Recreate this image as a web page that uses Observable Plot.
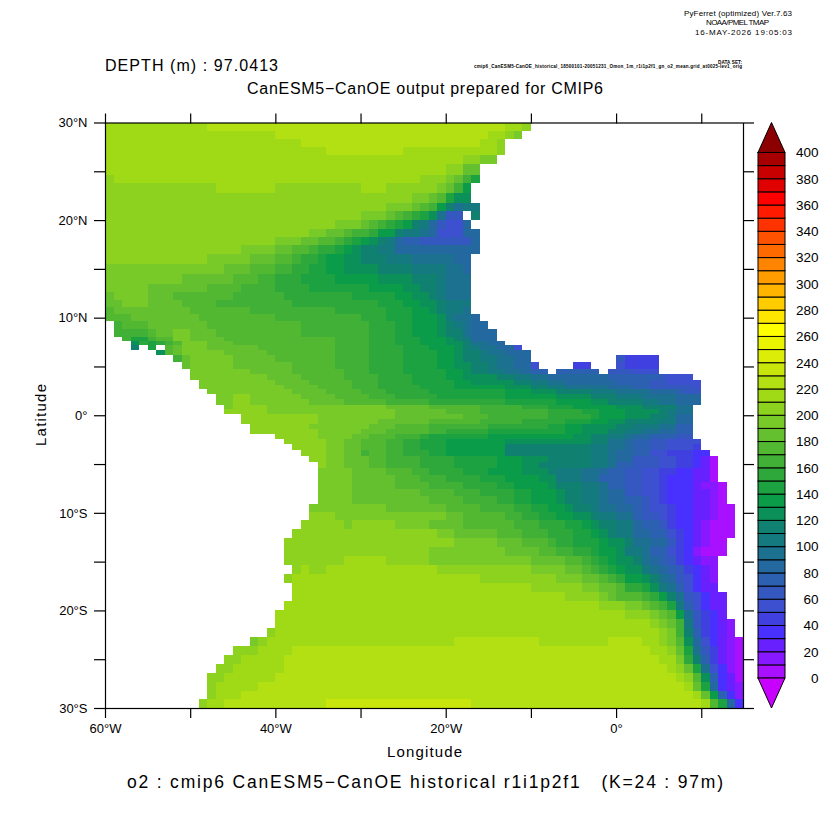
<!DOCTYPE html>
<html><head><meta charset="utf-8">
<script src="https://cdn.jsdelivr.net/npm/d3@7"></script>
<script src="https://cdn.jsdelivr.net/npm/@observablehq/plot@0.6"></script>
<style>
html,body{margin:0;padding:0;background:#fff}
#wrap{position:relative;width:832px;height:832px;overflow:hidden}
#wrap svg{position:absolute;left:0;top:0;background:transparent}
</style></head><body><div id="wrap"></div>
<script>
// Latitude edges of the model rows (deg N), north to south
const latEdges = [30,29.08,28.36,27.54,26.62,25.7,24.67,23.75,22.73,21.8,20.88,19.96,19.04,18.22,17.4,16.48,15.45,14.43,13.5,12.68,11.86,11.05,10.33,9.61,8.79,8.07,7.56,7.15,6.64,6.13,5.41,4.69,4.18,3.66,3.15,2.64,2.13,1.62,1.1,.59,.08,-.43,-.94,-1.45,-1.97,-2.48,-2.99,-3.61,-4.22,-4.84,-5.45,-6.17,-6.89,-7.6,-8.32,-9.14,-9.96,-10.78,-11.7,-12.62,-13.55,-14.47,-15.39,-16.31,-17.23,-18.16,-19.08,-20,-20.92,-21.84,-22.77,-23.69,-24.61,-25.53,-26.45,-27.38,-28.3,-29.12,-30];
// Per row: "degrees east of 60W : o2 in tens of umol/kg" ; x = land
const o2Rows = [
"0:21 12:22 47:21 49:20 50:x",
"0:21 20:22 45:21 47:20 48:19 49:x",
"0:21 23:22 44:21 46:20 47:x",
"0:21 26:22 35:21 46:20 47:x",
"0:21 42:20 44:19 46:x",
"0:21 40:20 42:18 44:x",
"0:20 1:21 37:20 40:19 41:18 42:16 43:14 44:x",
"0:20 13:21 20:20 30:21 33:20 39:19 40:18 41:16 42:13 43:x",
"0:20 36:19 38:18 39:17 40:14 41:12 43:x",
"0:20 33:19 36:18 37:17 38:16 39:13 40:11 41:9 42:10 44:x",
"0:20 30:19 33:18 34:17 35:16 36:15 37:14 38:12 39:9 40:6 42:x 43:11 44:x",
"0:20 27:19 30:18 31:17 32:16 33:15 34:14 35:13 36:11 37:10 38:8 39:6 40:5 42:8 43:x",
"0:20 24:19 26:18 28:17 29:16 31:15 32:13 34:11 35:10 37:9 38:8 39:5 42:8 44:x",
"0:20 20:19 23:18 25:17 27:16 28:15 29:14 30:13 31:12 32:11 33:10 34:8 35:7 37:6 43:8 44:x",
"0:20 16:19 20:18 22:17 24:16 25:15 27:14 28:13 29:12 30:11 32:10 34:8 44:x",
"0:20 12:19 17:18 20:17 22:16 23:15 25:14 26:13 28:12 30:11 33:10 36:9 41:8 43:x",
"0:19 14:18 17:17 20:16 22:15 24:14 26:13 28:12 32:11 36:10 40:9 42:8 43:x",
"0:19 9:18 15:17 18:16 20:15 23:14 27:13 32:12 36:11 39:10 40:9 43:x",
"0:19 5:18 12:17 16:16 20:15 24:14 31:13 35:12 37:11 39:10 40:9 43:x",
"0:18 1:19 5:18 8:17 15:16 21:15 29:14 34:13 36:12 38:11 39:10 40:9 43:x",
"0:18 2:19 5:18 9:17 13:16 22:15 32:14 35:13 37:12 39:11 40:10 43:x",
"0:17 1:18 10:17 17:16 27:15 33:14 36:13 38:12 39:11 40:10 42:9 43:x",
"0:17 3:18 11:17 20:16 30:15 33:14 36:13 39:12 40:10 41:9 43:8 44:x",
"0:x 1:16 2:17 5:18 12:17 23:16 31:15 34:14 36:13 39:12 40:11 41:10 42:9 43:8 45:x",
"0:x 1:16 5:17 6:18 8:19 10:18 13:17 23:16 31:15 34:14 36:13 39:12 40:11 42:9 43:8 46:x",
"0:x 2:16 3:14 5:16 6:17 8:19 10:18 14:17 27:16 31:15 34:14 37:13 40:12 41:11 42:10 43:8 46:x",
"0:x 3:12 4:15 5:14 6:15 7:16 8:17 9:19 12:18 15:17 27:16 31:15 34:14 37:13 40:12 42:11 43:9 45:8 47:x",
"0:x 3:11 4:x 5:14 6:x 7:17 8:18 9:19 12:18 18:17 27:16 31:15 35:14 38:13 41:12 42:11 43:10 44:9 46:8 48:5 49:x",
"0:x 6:12 7:17 8:18 9:19 14:18 19:17 27:16 31:15 35:14 39:13 41:12 42:11 44:10 45:9 47:8 50:x",
"0:x 8:16 9:18 10:19 15:18 20:17 27:16 31:15 35:14 39:13 41:12 42:11 44:10 46:9 48:8 50:x 60:6 61:4 65:x",
"0:x 9:18 10:19 15:18 22:17 27:16 31:15 35:14 39:13 41:12 43:11 45:10 46:9 48:8 50:5 51:x 55:4 57:x 60:5 61:4 65:x",
"0:x 10:19 17:18 22:17 28:16 31:15 35:14 40:13 42:12 43:11 45:10 47:9 49:8 50:7 52:x 53:7 58:x 59:6 62:5 65:x",
"0:x 10:19 19:18 23:17 28:16 32:15 36:14 40:13 42:12 46:11 48:10 50:9 52:8 59:7 65:6 66:5 69:x",
"0:x 11:19 20:18 24:17 29:16 32:15 36:14 41:13 43:12 48:11 50:10 52:9 54:8 60:7 64:6 66:5 70:x",
"0:x 11:19 21:18 25:17 29:16 32:15 37:14 41:13 47:12 50:11 52:10 54:9 59:8 62:7 64:6 69:5 70:x",
"0:x 12:19 22:18 26:17 30:16 33:15 38:14 47:13 50:12 53:11 57:10 60:9 64:8 67:7 68:6 70:x",
"0:x 13:19 15:20 17:19 23:18 27:17 31:16 34:15 39:14 47:13 53:12 57:11 60:10 63:9 67:8 70:x",
"0:x 13:19 15:20 17:19 24:18 28:17 33:16 38:15 47:14 53:13 57:12 59:11 63:10 65:9 67:8 70:x",
"0:x 14:19 15:20 19:19 33:18 38:17 44:16 49:15 52:14 55:13 60:12 63:11 67:9 69:x",
"0:x 14:20 19:19 34:18 40:17 44:16 52:15 56:14 58:13 61:12 65:11 66:10 67:9 69:x",
"0:x 16:20 25:19 34:18 42:17 45:16 52:15 57:14 58:13 61:12 64:11 66:10 67:8 69:x",
"0:x 16:20 25:19 32:18 38:17 44:16 49:15 54:14 57:13 59:12 61:11 65:10 67:8 69:x",
"0:x 17:20 24:19 31:18 34:17 38:16 45:15 52:14 54:13 56:12 60:11 62:10 65:9 67:7 69:x",
"0:x 17:20 25:19 30:18 33:17 38:16 40:15 45:14 54:13 56:12 59:11 61:10 63:9 65:8 67:7 69:x",
"0:x 20:20 25:19 29:18 31:17 34:16 37:15 38:14 45:13 55:12 57:11 59:10 61:9 62:8 64:7 67:6 69:x",
"0:x 21:20 26:19 28:18 30:17 33:16 35:15 37:14 40:13 47:12 57:11 59:9 61:8 62:7 64:6 66:5 70:x",
"0:x 22:20 26:19 28:18 30:17 33:16 35:15 37:14 40:13 47:11 57:10 59:9 61:8 62:7 64:6 66:5 69:4 70:x",
"0:x 23:20 26:19 28:18 30:16 31:17 33:16 35:15 38:14 40:13 47:11 57:10 59:9 60:8 62:7 64:5 66:4 69:3 71:x",
"0:x 24:20 26:19 28:18 31:17 33:16 37:15 41:14 46:13 49:12 52:11 57:10 59:9 60:8 62:6 65:5 67:4 69:3 70:2 71:0 72:x",
"0:x 25:20 26:19 28:18 31:17 33:16 37:15 41:14 46:13 49:12 51:11 57:10 59:9 60:7 62:6 65:5 67:4 69:3 70:2 71:0 72:x",
"0:x 25:19 29:18 33:17 36:16 38:15 42:14 45:13 49:12 52:11 53:10 56:9 58:8 59:7 61:6 63:5 65:4 67:3 69:2 71:0 72:x",
"0:x 25:19 29:18 34:17 37:16 40:15 44:14 47:13 51:12 53:10 56:9 58:7 61:6 63:5 65:4 66:3 69:2 71:0 72:x",
"0:x 25:19 29:18 34:17 38:16 42:15 46:14 48:13 52:12 53:11 56:10 58:9 59:7 61:6 63:5 65:4 66:3 69:2 70:1 72:0 73:x",
"0:x 25:19 29:18 37:17 41:16 44:15 48:14 50:13 53:12 54:11 56:10 58:9 59:8 61:6 63:5 65:4 66:3 69:2 71:1 72:0 73:x",
"0:x 25:19 29:18 38:17 42:16 46:15 48:14 50:13 53:12 54:11 56:10 58:9 59:8 61:7 63:6 64:5 65:4 66:3 69:2 71:1 72:0 73:x",
"0:x 24:19 33:18 40:17 44:16 48:15 50:14 52:13 54:12 55:11 57:10 58:9 60:8 62:7 63:6 64:5 66:4 67:3 69:2 71:1 72:0 74:x",
"0:x 24:20 27:19 40:18 42:17 47:16 49:15 51:14 53:13 55:12 57:11 58:10 60:9 62:7 63:6 65:5 66:4 67:3 69:2 71:1 72:0 74:x",
"0:x 23:20 28:19 29:20 34:19 38:18 42:17 48:16 51:15 54:14 56:13 57:12 58:11 60:10 62:8 63:7 65:6 66:4 67:3 69:2 70:1 71:0 74:x",
"0:x 22:20 39:19 41:18 46:17 49:16 52:15 55:14 57:13 58:12 59:11 60:10 62:8 64:7 66:5 67:4 68:3 69:2 70:1 71:0 74:x",
"0:x 21:20 41:19 46:18 49:17 52:16 53:15 55:14 58:13 59:12 61:11 62:9 64:8 66:6 67:4 68:3 69:2 70:1 71:0 73:x",
"0:x 21:20 38:19 47:18 51:17 53:16 55:15 57:14 58:13 60:12 61:10 63:9 64:7 66:5 67:4 68:3 69:1 70:0 73:x",
"0:x 21:20 28:21 33:20 38:19 50:18 54:17 56:16 57:15 58:14 59:13 60:12 62:11 63:9 64:8 65:7 66:6 67:4 68:3 69:2 70:1 72:x",
"0:x 22:20 23:21 24:20 26:21 39:20 50:19 54:18 56:17 57:16 58:15 59:14 60:13 61:12 63:10 64:9 65:8 66:7 67:6 68:4 69:3 70:2 71:1 72:x",
"0:x 21:20 22:21 44:20 53:19 56:18 58:17 59:16 60:15 61:13 63:12 64:11 65:9 66:8 67:6 68:5 69:3 70:2 71:1 72:x",
"0:x 22:21 50:20 56:19 58:18 60:17 61:15 63:14 64:12 65:10 66:9 67:7 68:5 69:3 70:2 72:x",
"0:x 22:21 54:20 58:19 59:18 60:17 63:16 64:15 65:13 66:11 67:9 68:6 69:5 70:3 71:2 73:x",
"0:x 21:21 58:20 61:19 63:18 64:17 65:16 66:14 67:10 68:7 69:5 70:3 71:2 73:x",
"0:x 20:21 61:20 64:19 65:18 66:17 67:13 68:9 69:6 70:4 71:3 72:2 73:x",
"0:x 20:21 64:20 65:19 66:18 67:16 68:10 69:6 70:4 71:3 72:2 73:1 74:x",
"0:x 19:20 20:21 65:20 66:19 67:16 68:11 69:7 70:4 71:3 72:2 73:1 74:x",
"0:x 17:19 18:20 19:21 41:22 51:21 59:22 63:21 65:20 66:19 67:17 68:12 69:8 70:5 71:3 72:2 73:1 74:0",
"0:x 15:20 18:21 22:22 64:21 66:20 67:18 68:14 69:9 70:6 71:4 72:2 73:1 74:0",
"0:x 14:20 16:21 21:22 65:21 67:19 68:15 69:11 70:7 71:4 72:2 73:1 74:0",
"0:x 13:20 15:21 21:22 66:21 67:20 68:18 69:14 70:9 71:5 72:3 73:1 74:0",
"0:x 12:20 14:21 20:22 67:21 68:20 69:17 70:12 71:7 72:3 73:2 74:0",
"0:x 12:20 13:21 18:22 68:21 69:18 70:14 71:8 72:3 73:2 74:1",
"0:x 12:20 13:21 16:22 69:21 70:18 71:13 72:7 73:3 74:1",
"0:x 11:20 12:21 14:22 26:23 43:22 70:21 71:17 72:14 73:8 74:3"
];
const levels = d3.range(0, 401, 10);
const palette = ["#c800ff","#a810ff","#8818ff","#6820ff","#4830ff","#4040e0","#3c50d0","#3458c0","#2c60b0","#2468a0","#1c7090","#147a80","#108070","#0a9058","#0a9c48","#1ca240","#2ea83a","#40b036","#52b832","#64c02e","#78ca28","#8cd21e","#a0da16","#b2e012","#c8e60c","#dcee08","#eaf400","#ffff00","#ffe600","#ffcc00","#ffb400","#ff9c00","#ff8400","#ff6a00","#ff5200","#ff3300","#ff1a00","#ff0000","#e00000","#c80000","#a80000","#8b0000"];
const lonTicks = d3.range(-60, 11, 10);
const latTicks = d3.range(-30, 31, 5);
const legendLabels = d3.range(0, 401, 20);
const fontFamily = '"Liberation Sans","DejaVu Sans",sans-serif';

const lonFmt = d => (d % 20 === 0 && d <= 0) ? (d === 0 ? "0°" : `${-d}°W`) : "";
const latFmt = d => d % 10 ? "" : d === 0 ? "0°" : d > 0 ? `${d}°N` : `${-d}°S`;
const lonEnd = 14.9;

const cells = [];
o2Rows.forEach((row, r) => {
  const runs = row.split(" ").map(s => s.split(":"));
  runs.forEach(([c, v], i) => {
    if (v === "x") return;
    cells.push({
      lon1: -60 + +c,
      lon2: i + 1 < runs.length ? -60 + +runs[i + 1][0] : lonEnd,
      lat1: latEdges[r], lat2: latEdges[r + 1],
      o2: +v * 10 + 5
    });
  });
});
const colorOpts = {type: "threshold", domain: levels, range: palette};

const main = Plot.plot({
  width: 832, height: 832,
  marginLeft: 105, marginRight: 89, marginTop: 122.5, marginBottom: 124,
  style: {fontFamily, fontSize: "13px", color: "#000", background: "transparent"},
  x: {domain: [-60, lonEnd]},
  y: {domain: [-30, 30]},
  color: colorOpts,
  marks: [
    Plot.rect(cells, {x1: "lon1", x2: "lon2", y1: "lat1", y2: "lat2", fill: "o2", shapeRendering: "crispEdges"}),
    Plot.frame({stroke: "#000", strokeWidth: 1.2}),
    Plot.axisX({anchor: "bottom", ticks: lonTicks, tickSize: 10, tickPadding: 5, tickFormat: lonFmt, label: null, fontSize: 13, strokeWidth: 1.2}),
    Plot.axisX({anchor: "top", ticks: lonTicks, tickSize: 10, text: null, label: null, strokeWidth: 1.2}),
    Plot.axisY({anchor: "left", ticks: latTicks, tickSize: 11, tickPadding: 7, tickFormat: latFmt, label: null, fontSize: 13, strokeWidth: 1.2}),
    Plot.axisY({anchor: "right", ticks: latTicks, tickSize: 10, text: null, label: null, strokeWidth: 1.2})
  ]
});

const legendBands = levels.slice(0, -1).map(d => ({lo: d, hi: d + 10, mid: d + 5}));
const tip = 22.8;
const legend = Plot.plot({
  width: 832, height: 832,
  marginLeft: 758, marginRight: 47, marginTop: 122.5, marginBottom: 124,
  style: {fontFamily, fontSize: "13px", color: "#000", background: "transparent", overflow: "visible"},
  x: {domain: [0, 1], axis: null},
  y: {domain: [-tip, 400 + tip], axis: null},
  color: colorOpts,
  marks: [
    Plot.rect(legendBands, {x1: 0, x2: 1, y1: "lo", y2: "hi", fill: "mid", stroke: "#000", strokeWidth: 1}),
    Plot.areaY([{x: 0, t: 400}, {x: .5, t: 400 + tip}, {x: 1, t: 400}], {x: "x", y1: 400, y2: "t", fill: palette[41], stroke: "#000"}),
    Plot.areaY([{x: 0, t: 0}, {x: .5, t: -tip}, {x: 1, t: 0}], {x: "x", y1: 0, y2: "t", fill: palette[0], stroke: "#000"}),
    Plot.text(legendLabels, {x: 1, y: d => d, text: d => String(d), dx: 33, textAnchor: "end", fontSize: 13.5})
  ]
});

const wrap = document.getElementById("wrap");
wrap.append(main, legend);

const labels = d3.select(wrap).append("svg").attr("width", 832).attr("height", 832)
  .style("font-family", fontFamily).style("fill", "#000");
const note = (x, y, t, size, len, weight = "normal", rotate = 0) => {
  const e = labels.append("text").attr("x", x).attr("y", y).attr("font-size", size)
    .attr("font-weight", weight).text(t);
  if (rotate) e.attr("transform", `rotate(${rotate} ${x} ${y})`);
  if (len) e.attr("textLength", len).attr("lengthAdjust", "spacing");
};
note(684, 16, "PyFerret (optimized) Ver.7.63", 8, 108);
note(706, 25, "NOAA/PMEL TMAP", 8, 63);
note(695, 35, "16-MAY-2026 19:05:03", 8, 97);
note(718, 64, "DATA SET:", 4.6, 24, "bold");
note(474, 67.5, "cmip6_CanESM5-CanOE_historical_18500101-20051231_Omon_1m_r1i1p2f1_gn_o2_mean.grid_at0025-lev1_orig", 4.6, 268, "bold");
note(105, 71, "DEPTH (m) : 97.0413", 16, 173);
note(247, 94, "CanESM5\u2212CanOE output prepared for CMIP6", 16, 356);
note(387, 757, "Longitude", 15, 75);
note(46, 446, "Latitude", 15, 62, "normal", -90);
note(127, 788, "o2 : cmip6 CanESM5\u2212CanOE historical r1i1p2f1\u00a0\u00a0\u00a0(K=24 : 97m)", 17.5, 596);
</script></body></html>
